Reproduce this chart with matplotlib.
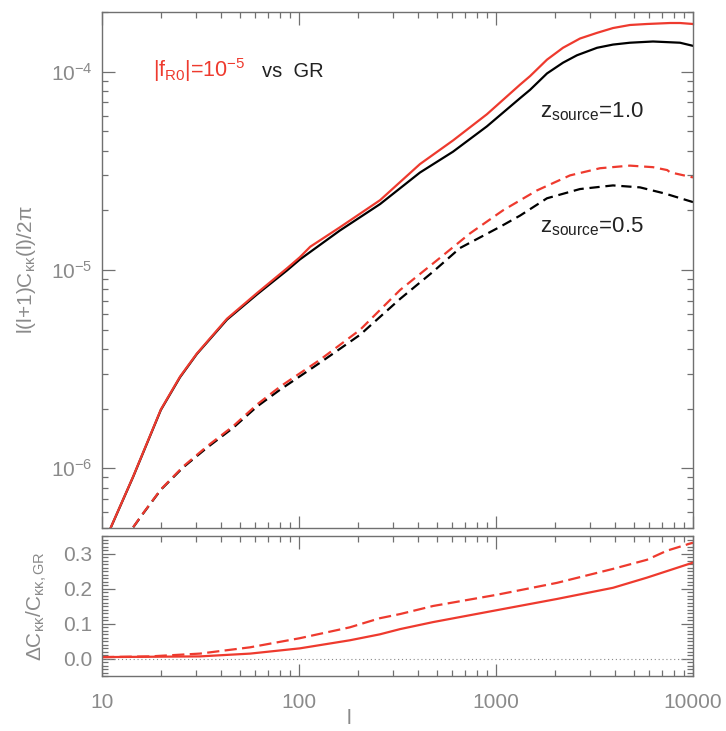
import matplotlib
matplotlib.use("Agg")
import matplotlib.pyplot as plt
from matplotlib.ticker import LogLocator, FixedLocator, FuncFormatter, MultipleLocator, NullFormatter

plt.rcParams['font.family'] = ['Liberation Sans', 'DejaVu Sans']
plt.rcParams['mathtext.fontset'] = 'custom'
plt.rcParams['mathtext.rm'] = 'Liberation Sans'
plt.rcParams['mathtext.it'] = 'Liberation Sans'
plt.rcParams['mathtext.bf'] = 'Liberation Sans'
plt.rcParams['mathtext.sf'] = 'Liberation Sans'

# ---------------- data ----------------
l_z1_fr = [11.1, 14.4, 19.9, 24.9, 30.3, 43.1, 61.3, 86.9, 101, 114, 161, 258, 411, 605, 899, 1324, 1489, 1815,
           2188, 2669, 3258, 3925, 4786, 5834, 7640, 8590, 10000]
c_z1_fr = [5.05e-7, 9.1e-7, 1.98e-6, 2.9e-6, 3.79e-6, 5.68e-6, 7.66e-6, 1.02e-5, 1.16e-5, 1.31e-5, 1.64e-5, 2.25e-5,
           3.42e-5, 4.5e-5, 6.1e-5, 8.6e-5, 9.5e-5, 1.15e-4, 1.32e-4, 1.47e-4, 1.57e-4, 1.66e-4, 1.72e-4, 1.74e-4,
           1.76e-4, 1.76e-4, 1.74e-4]

l_z1_gr = [11.1, 14.4, 19.9, 24.9, 30.3, 43.1, 61.3, 86.9, 101, 161, 258, 411, 605, 899, 1324, 1489, 1815, 2188,
           2576, 3258, 3925, 4786, 6266, 8590, 10000]
c_z1_gr = [5.04e-7, 9.07e-7, 1.97e-6, 2.88e-6, 3.77e-6, 5.62e-6, 7.54e-6, 9.95e-6, 1.13e-5, 1.58e-5, 2.15e-5,
           3.10e-5, 3.95e-5, 5.30e-5, 7.35e-5, 8.1e-5, 9.8e-5, 1.11e-4, 1.21e-4, 1.32e-4, 1.37e-4, 1.40e-4,
           1.42e-4, 1.40e-4, 1.35e-4]

l_z05_fr = [14.4, 16.1, 19.9, 25.8, 34.1, 46.3, 61.3, 80.1, 128, 204, 326, 502, 738, 1086, 1615, 2376, 3373, 4786,
            6266, 7400, 7640, 10000]
c_z05_fr = [5.05e-7, 5.9e-7, 7.83e-7, 1.02e-6, 1.29e-6, 1.63e-6, 2.10e-6, 2.58e-6, 3.53e-6, 4.99e-6, 7.93e-6,
            1.12e-5, 1.53e-5, 2.00e-5, 2.52e-5, 3.00e-5, 3.26e-5, 3.36e-5, 3.30e-5, 3.19e-5, 3.11e-5, 2.93e-5]

l_z05_gr = [14.4, 16.1, 19.9, 25.8, 34.1, 46.3, 61.3, 80.1, 128, 204, 326, 479, 656, 1047, 1324, 1815, 2669, 3925,
            5383, 7200, 10000]
c_z05_gr = [5.04e-7, 5.88e-7, 7.80e-7, 1.01e-6, 1.27e-6, 1.60e-6, 2.05e-6, 2.49e-6, 3.41e-6, 4.71e-6, 7.15e-6,
            9.8e-6, 1.29e-5, 1.65e-5, 1.88e-5, 2.30e-5, 2.56e-5, 2.67e-5, 2.61e-5, 2.43e-5, 2.20e-5]

l_d_z1 = [10, 31.4, 56.5, 101, 181, 257, 326, 479, 1008, 2035, 3925, 5834, 10000]
d_z1 = [0.004, 0.006, 0.014, 0.029, 0.052, 0.069, 0.084, 0.104, 0.138, 0.170, 0.202, 0.231, 0.274]

l_d_z05 = [10, 17.5, 31.4, 56.5, 101, 181, 257, 326, 479, 1008, 2035, 3925, 5834, 7370, 10000]
d_z05 = [0.004, 0.006, 0.014, 0.032, 0.058, 0.089, 0.115, 0.127, 0.150, 0.182, 0.216, 0.256, 0.282, 0.308, 0.331]

x_ticks = [10, 100, 1000, 10000]
x_ticklabels = ['10', '100', '1000', '10000']
y_ticks_top = [1e-6, 1e-5, 1e-4]
y_ticklabels_top = [r'10$^{-6}$', r'10$^{-5}$', r'10$^{-4}$']

RED = '#ee3a2e'
BLACK = '#000000'
GRAY = '#8a8a8a'
SPINE = '#707070'

W, H = 726, 731
fig = plt.figure(figsize=(W / 100, H / 100), dpi=100)

def fx(px):
    return px / W

def fy(py):
    return 1 - py / H

ax1 = fig.add_axes([fx(102), fy(528), fx(693) - fx(102), fy(12) - fy(528)])
ax2 = fig.add_axes([fx(102), fy(676), fx(693) - fx(102), fy(536) - fy(676)])

lw = 1.6
dash = (4.6, 2.6)
ax1.plot(l_z1_gr, c_z1_gr, color=BLACK, lw=lw)
ax1.plot(l_z1_fr, c_z1_fr, color=RED, lw=lw)
ax1.plot(l_z05_gr, c_z05_gr, color=BLACK, lw=lw, dashes=dash)
ax1.plot(l_z05_fr, c_z05_fr, color=RED, lw=lw, dashes=dash)

ax2.axhline(0.0, color=GRAY, lw=0.8, ls=(0, (1, 2.5)))
ax2.plot(l_d_z1, d_z1, color=RED, lw=lw)
ax2.plot(l_d_z05, d_z05, color=RED, lw=lw, dashes=(5.5, 2.4))

for ax in (ax1, ax2):
    ax.set_xscale('log')
    ax.set_xlim(10, 10000)
    for s in ax.spines.values():
        s.set_color(SPINE)
        s.set_linewidth(1.0)
    ax.tick_params(which='both', direction='in', top=True, right=True, color=SPINE,
                   labelcolor=GRAY, labelsize=15)
    ax.tick_params(which='major', length=9, width=0.9)
    ax.tick_params(which='minor', length=4.5, width=0.9)
    ax.xaxis.set_major_locator(FixedLocator(x_ticks))
    ax.xaxis.set_minor_locator(LogLocator(base=10, subs=[2, 3, 4, 5, 6, 7, 8, 9]))
    ax.xaxis.set_minor_formatter(NullFormatter())

ax1.set_yscale('log')
ax1.set_ylim(5e-7, 2e-4)
ax1.yaxis.set_major_locator(FixedLocator(y_ticks_top))
ax1.set_yticklabels(y_ticklabels_top)
ax1.yaxis.set_minor_locator(LogLocator(base=10, subs=[2, 3, 4, 5, 6, 7, 8, 9]))
ax1.yaxis.set_minor_formatter(NullFormatter())
ax1.set_xticklabels([])
ax1.tick_params(axis='y', pad=7)

ax2.set_ylim(-0.05, 0.35)
ax2.yaxis.set_major_locator(MultipleLocator(0.1))
ax2.yaxis.set_minor_locator(MultipleLocator(0.01))
ax2.yaxis.set_major_formatter(FuncFormatter(lambda v, p: '%.1f' % v))
ax2.set_xticklabels(x_ticklabels)
ax2.tick_params(axis='x', pad=12)
ax2.tick_params(axis='y', pad=7)

# axis labels
fig.text(fx(26), fy(270), r'l(l+1)C$_{\kappa\kappa}$(l)/2$\pi$', rotation=90,
         ha='center', va='center', color=GRAY, fontsize=15)
fig.text(fx(37), fy(606), r'$\Delta$C$_{\kappa\kappa}$/C$_{\kappa\kappa,\mathrm{GR}}$', rotation=90,
         ha='center', va='center', color=GRAY, fontsize=15)
fig.text(fx(349), fy(718), 'l', ha='center', va='center', color=GRAY, fontsize=15)

# annotations
fig.text(fx(153), fy(77), r'|f$_{\mathrm{R0}}$|=10$^{-5}$', color=RED, fontsize=15.5,
         ha='left', va='baseline')
fig.text(fx(262), fy(77), 'vs  GR', color='#222222', fontsize=14.5, ha='left', va='baseline')
fig.text(fx(540), fy(117), r'z$_{\mathrm{source}}$=1.0', color='#222222', fontsize=16,
         ha='left', va='baseline')
fig.text(fx(540), fy(232), r'z$_{\mathrm{source}}$=0.5', color='#222222', fontsize=16,
         ha='left', va='baseline')

fig.savefig('out.png', dpi=100, facecolor='white')
